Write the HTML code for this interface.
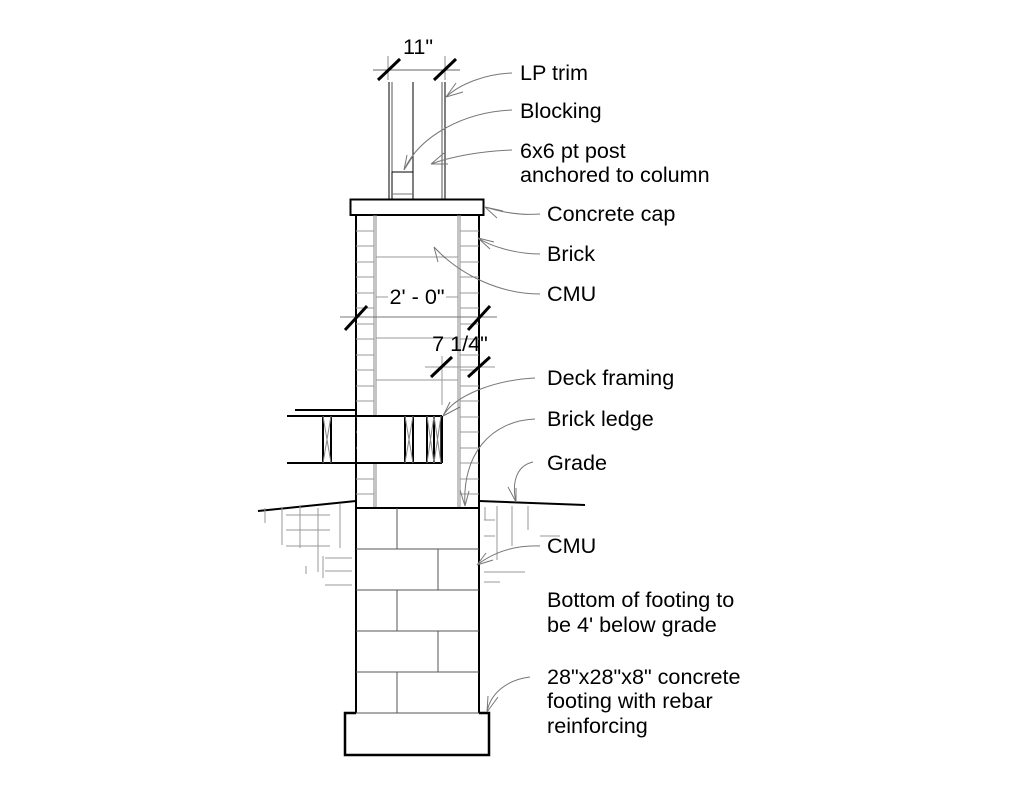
<!DOCTYPE html>
<html><head><style>
body{margin:0;background:#fff}
svg{display:block}
text{font-family:"Liberation Sans",sans-serif;font-size:21.6px;fill:#000}
</style></head><body>
<svg width="1024" height="791" viewBox="0 0 1024 791" xmlns="http://www.w3.org/2000/svg">
<g fill="none" stroke="#000" stroke-width="1">
<line x1="389" y1="82" x2="389" y2="199"/><line x1="392" y1="82" x2="392" y2="199" stroke="#555"/>
<line x1="413" y1="82" x2="413" y2="199"/>
<line x1="442" y1="82" x2="442" y2="199" stroke="#555"/><line x1="445" y1="82" x2="445" y2="199"/>
<rect x="392" y="172" width="21" height="27"/><line x1="392" y1="194" x2="413" y2="194" stroke="#777"/>
<line x1="373" y1="70" x2="460" y2="70" stroke="#666"/>
<line x1="388" y1="56" x2="388" y2="80" stroke="#888"/><line x1="445" y1="56" x2="445" y2="80" stroke="#888"/>
<line x1="378" y1="80" x2="400" y2="59" stroke-width="3"/><line x1="434" y1="80" x2="456" y2="59" stroke-width="3"/>
<rect x="350.5" y="199.5" width="133" height="15.5" stroke-width="2"/>
<line x1="356" y1="215" x2="356" y2="508" stroke-width="2"/>
<line x1="479" y1="215" x2="479" y2="508" stroke-width="2"/>
<line x1="374" y1="215" x2="374" y2="508" stroke="#888"/><line x1="376" y1="215" x2="376" y2="508" stroke="#888"/>
<line x1="458" y1="215" x2="458" y2="508" stroke="#888"/><line x1="460" y1="215" x2="460" y2="508" stroke="#888"/>
</g>
<g stroke="#999" stroke-width="1">
<path d="M356 231H374M356 246H374M356 262H374M356 277H374M356 293H374M356 308H374M356 324H374M356 339H374M356 355H374M356 370H374M356 386H374M356 401H374M356 417H374M356 432H374M356 448H374M356 463H374M356 479H374M356 494H374"/>
<path d="M460 231H479M460 246H479M460 262H479M460 277H479M460 293H479M460 308H479M460 324H479M460 339H479M460 355H479M460 370H479M460 386H479M460 401H479M460 417H479M460 432H479M460 448H479M460 463H479M460 479H479M460 494H479"/>
<path d="M376 257H458M376 338H458M376 380H458M376 317H458"/>
<path d="M376 297H390M444 297H458"/>
<line x1="340" y1="317" x2="497" y2="317" stroke="#777"/>
<line x1="425" y1="367" x2="495" y2="367"/>
<line x1="442" y1="356" x2="442" y2="405"/>
</g>
<g stroke="#000" stroke-width="3">
<line x1="345" y1="330" x2="367" y2="306"/><line x1="468" y1="330" x2="490" y2="306"/>
<line x1="431" y1="377" x2="452" y2="357"/><line x1="468" y1="377" x2="490" y2="357"/>
</g>
<text x="418" y="54" text-anchor="middle">11"</text>
<rect x="388" y="283" width="58" height="24" fill="#fff"/>
<text x="417" y="304" text-anchor="middle">2' - 0"</text>
<text x="460" y="351" text-anchor="middle">7 1/4"</text>
<g fill="none" stroke="#000">
<rect x="357" y="416" width="85" height="47" fill="#fff" stroke="none"/>
<line x1="287" y1="416" x2="442" y2="416" stroke-width="2"/>
<line x1="287" y1="463" x2="442" y2="463" stroke-width="2"/>
<line x1="295" y1="410" x2="356" y2="410" stroke-width="2"/>
<line x1="442" y1="416" x2="442" y2="463" stroke-width="2"/>
<rect x="323" y="416" width="8" height="47" stroke-width="2"/>
<rect x="405" y="416" width="8" height="47" stroke-width="2"/>
<rect x="427" y="416" width="7" height="47" stroke-width="2"/>
<rect x="434" y="416" width="7" height="47" stroke-width="1.5"/>
<path d="M323 416L331 463M331 416L323 463M405 416L413 463M413 416L405 463M427 416L434 463M434 416L427 463M434 416L441 463M441 416L434 463" stroke="#888"/>
</g>
<g stroke="#000" stroke-width="2">
<line x1="258" y1="511" x2="356" y2="501"/>
<line x1="479" y1="501" x2="585" y2="505"/>
</g>
<g stroke="#999" stroke-width="1">
<path d="M265 508V523M282 507V545M300 505V548M318 508V572M340 504V548M323 556V578M306 566V574"/>
<path d="M286 515H330M286 530H330M286 546H330M325 558H352M325 571H352M325 585H352"/>
<path d="M485 507V520M497 506V560M512 506V546M528 506V530"/>
<path d="M484 520H495M484 536H495M540 536H560M484 572H525M484 582H500"/>
</g>
<g fill="none" stroke="#000">
<line x1="356" y1="508" x2="479" y2="508" stroke-width="2"/>
<line x1="356" y1="508" x2="356" y2="713" stroke-width="2"/>
<line x1="479" y1="508" x2="479" y2="713" stroke-width="2"/>
<path d="M356 549H479M356 590H479M356 631H479M356 672H479M397 508V549M438 549V590M397 590V631M438 631V672M397 672V713" stroke="#555"/>
<path d="M356 713H345V755H489V713H479" stroke-width="2.5"/>
<line x1="356" y1="713" x2="479" y2="713" stroke="#555"/>
</g>
<g fill="none" stroke="#777" stroke-width="1">
<path d="M512 73C485 74 460 84 446 97M446 97L456 83M446 97L463 92"/>
<path d="M512 110C465 112 420 135 404 170M404 170L407 155M404 170L413 156"/>
<path d="M512 150C480 151 450 157 431 164M431 164L444 153M431 164L448 164"/>
<path d="M540 214C515 216 495 210 485 207M485 207L497 218M485 207L503 211"/>
<path d="M540 254C515 254 490 246 478 238M478 238L490 249M478 238L494 242"/>
<path d="M540 294C500 294 460 275 434 247M434 247L438 262M434 247L445 258"/>
<path d="M535 378C495 380 455 395 443 416M443 416L450 402M443 416L460 407"/>
<path d="M535 419C490 421 462 455 465 506M465 506L460 490M465 506L469 491"/>
<path d="M533 462C515 466 512 485 516 502M516 502L508 487M516 502L516 488"/>
<path d="M540 546C510 545 490 555 477 565M477 565L486 553M477 565L493 560"/>
<path d="M530 677C505 680 490 695 487 712M487 712L488 696M487 712L498 697"/>
</g>
<text x="520" y="80">LP trim</text>
<text x="520" y="118">Blocking</text>
<text x="520" y="158">6x6 pt post</text>
<text x="520" y="182">anchored to column</text>
<text x="547" y="221">Concrete cap</text>
<text x="547" y="261">Brick</text>
<text x="547" y="301">CMU</text>
<text x="547" y="385">Deck framing</text>
<text x="547" y="426">Brick ledge</text>
<text x="547" y="470">Grade</text>
<text x="547" y="553">CMU</text>
<text x="547" y="607">Bottom of footing to</text>
<text x="547" y="632">be 4' below grade</text>
<text x="547" y="684">28"x28"x8" concrete</text>
<text x="547" y="708">footing with rebar</text>
<text x="547" y="733">reinforcing</text>
</svg>
</body></html>
